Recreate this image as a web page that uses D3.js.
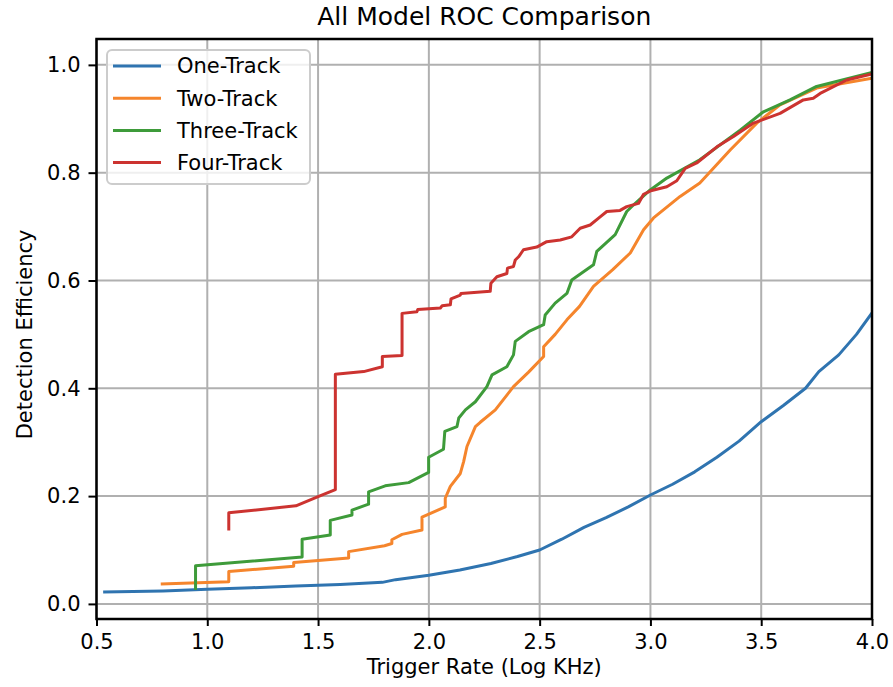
<!DOCTYPE html>
<html>
<head>
<meta charset="utf-8">
<script src="https://cdn.jsdelivr.net/npm/d3@7"></script>
<style>
  body { margin: 0; background: #fff; }
  text { font-family: "DejaVu Sans", sans-serif; fill: #000; }
</style>
</head>
<body>
<div id="chart"></div>
<script>
// series names + colours (slightly muted matplotlib cycle, as in the picture)
const seriesNames = ["One-Track", "Two-Track", "Three-Track", "Four-Track"];
const seriesColors = ["#2f74b0", "#f5852c", "#3e9b3a", "#cc3330"];

const xTicks = [0.5, 1.0, 1.5, 2.0, 2.5, 3.0, 3.5, 4.0];
const yTicks = [0.0, 0.2, 0.4, 0.6, 0.8, 1.0];

// values: [trigger rate, efficiency]
const oneTrack = [
  [0.53, 0.022], [0.8, 0.024], [1.0, 0.027], [1.2, 0.030], [1.4, 0.033], [1.6, 0.036],
  [1.79, 0.040], [1.85, 0.045], [2.0, 0.053], [2.14, 0.063], [2.28, 0.075], [2.4, 0.088],
  [2.5, 0.100], [2.6, 0.120], [2.7, 0.142], [2.8, 0.160], [2.9, 0.180], [3.0, 0.202],
  [3.1, 0.222], [3.2, 0.245], [3.3, 0.272], [3.4, 0.302], [3.5, 0.338], [3.6, 0.368],
  [3.7, 0.400], [3.76, 0.431], [3.85, 0.462], [3.93, 0.500], [4.0, 0.540]
];

const twoTrack = [
  [0.79, 0.037], [1.097, 0.041], [1.097, 0.060], [1.39, 0.070], [1.39, 0.077],
  [1.638, 0.085], [1.638, 0.097], [1.80, 0.108], [1.833, 0.112], [1.833, 0.119],
  [1.879, 0.129], [1.969, 0.137], [1.969, 0.161], [2.074, 0.180], [2.074, 0.196],
  [2.097, 0.218], [2.142, 0.242], [2.157, 0.264], [2.172, 0.292], [2.21, 0.329],
  [2.232, 0.337], [2.30, 0.360], [2.382, 0.403], [2.45, 0.430], [2.518, 0.459],
  [2.518, 0.477], [2.57, 0.500], [2.623, 0.527], [2.68, 0.552], [2.743, 0.589],
  [2.83, 0.620], [2.909, 0.651], [2.969, 0.694], [3.014, 0.716], [3.134, 0.756],
  [3.223, 0.781], [3.36, 0.842], [3.48, 0.892], [3.585, 0.926], [3.75, 0.957], [4.0, 0.975]
];

const threeTrack = [
  [0.947, 0.026], [0.947, 0.071], [1.428, 0.087], [1.428, 0.120], [1.555, 0.128],
  [1.555, 0.155], [1.653, 0.165], [1.653, 0.174], [1.728, 0.185], [1.728, 0.208],
  [1.803, 0.219], [1.909, 0.225], [1.999, 0.244], [1.999, 0.272], [2.066, 0.287],
  [2.072, 0.320], [2.127, 0.329], [2.135, 0.345], [2.165, 0.360], [2.21, 0.375],
  [2.262, 0.403], [2.285, 0.425], [2.352, 0.440], [2.382, 0.462], [2.39, 0.487],
  [2.45, 0.505], [2.518, 0.518], [2.525, 0.536], [2.57, 0.558], [2.623, 0.576],
  [2.645, 0.601], [2.743, 0.629], [2.758, 0.654], [2.841, 0.685], [2.893, 0.728],
  [2.923, 0.740], [2.999, 0.768], [3.074, 0.790], [3.223, 0.824], [3.405, 0.879],
  [3.51, 0.913], [3.63, 0.935], [3.75, 0.960], [4.0, 0.986]
];

const fourTrack = [
  [1.097, 0.136], [1.097, 0.169], [1.40, 0.182], [1.50, 0.199], [1.578, 0.212],
  [1.578, 0.426], [1.706, 0.431], [1.79, 0.440], [1.79, 0.459], [1.879, 0.461],
  [1.879, 0.539], [1.946, 0.542], [1.95, 0.546], [2.052, 0.549], [2.06, 0.553],
  [2.097, 0.555], [2.10, 0.566], [2.142, 0.573], [2.145, 0.576], [2.277, 0.580],
  [2.28, 0.595], [2.307, 0.607], [2.352, 0.613], [2.355, 0.623], [2.382, 0.626],
  [2.39, 0.638], [2.405, 0.644], [2.427, 0.657], [2.487, 0.662], [2.532, 0.672],
  [2.593, 0.675], [2.645, 0.681], [2.683, 0.697], [2.728, 0.703], [2.773, 0.718],
  [2.803, 0.728], [2.863, 0.730], [2.893, 0.737], [2.946, 0.743], [2.969, 0.760],
  [3.006, 0.767], [3.074, 0.774], [3.119, 0.785], [3.157, 0.808], [3.209, 0.818],
  [3.30, 0.848], [3.375, 0.867], [3.465, 0.892], [3.585, 0.910], [3.69, 0.935],
  [3.735, 0.938], [3.766, 0.947], [3.886, 0.972], [4.0, 0.983]
];

const allSeries = [oneTrack, twoTrack, threeTrack, fourTrack];

const width = 893, height = 687;
const margin = { top: 39, right: 21, bottom: 68, left: 96.5 };
const innerW = width - margin.left - margin.right;
const innerH = height - margin.top - margin.bottom;

const svg = d3.select("#chart").append("svg")
  .attr("width", width)
  .attr("height", height);

const g = svg.append("g")
  .attr("transform", `translate(${margin.left},${margin.top})`);

const x = d3.scaleLinear().domain([0.5, 4.0]).range([0, innerW]);
const y = d3.scaleLinear().domain([-0.028, 1.048]).range([innerH, 0]);

// grid
g.append("g")
  .selectAll("line")
  .data(xTicks)
  .join("line")
  .attr("x1", d => x(d)).attr("x2", d => x(d))
  .attr("y1", 0).attr("y2", innerH)
  .attr("stroke", "#b0b0b0").attr("stroke-width", 2);

g.append("g")
  .selectAll("line")
  .data(yTicks)
  .join("line")
  .attr("x1", 0).attr("x2", innerW)
  .attr("y1", d => y(d)).attr("y2", d => y(d))
  .attr("stroke", "#b0b0b0").attr("stroke-width", 2);

// lines
g.append("clipPath").attr("id", "clip")
  .append("rect").attr("width", innerW).attr("height", innerH);

const line = d3.line().x(d => x(d[0])).y(d => y(d[1]));

g.append("g").attr("clip-path", "url(#clip)")
  .selectAll("path")
  .data(allSeries)
  .join("path")
  .attr("d", line)
  .attr("fill", "none")
  .attr("stroke", (d, i) => seriesColors[i])
  .attr("stroke-width", 3)
  .attr("stroke-linejoin", "round")
  .attr("stroke-linecap", "butt");

// axes
const xAxis = g.append("g")
  .attr("transform", `translate(0,${innerH})`)
  .call(d3.axisBottom(x).tickValues(xTicks).tickFormat(d3.format(".1f")).tickSize(7).tickPadding(8));

const yAxis = g.append("g")
  .call(d3.axisLeft(y).tickValues(yTicks).tickFormat(d3.format(".1f")).tickSize(8).tickPadding(8));

[xAxis, yAxis].forEach(ax => {
  ax.select(".domain").remove();
  ax.selectAll(".tick line").attr("stroke", "#000").attr("stroke-width", 2);
  ax.selectAll(".tick text").attr("font-size", 21).attr("font-family", "DejaVu Sans");
});

// frame
g.append("rect")
  .attr("width", innerW).attr("height", innerH)
  .attr("fill", "none").attr("stroke", "#000").attr("stroke-width", 2.5);

// legend
const legend = g.append("g").attr("transform", "translate(10.5,11)");
legend.append("rect")
  .attr("width", 203).attr("height", 134)
  .attr("rx", 5)
  .attr("fill", "#fff").attr("fill-opacity", 0.8)
  .attr("stroke", "#cccccc").attr("stroke-width", 2);

const items = legend.selectAll(".item")
  .data(seriesNames)
  .join("g")
  .attr("class", "item")
  .attr("transform", (d, i) => `translate(0,${16 + i * 32.2})`);

items.append("line")
  .attr("x1", 6).attr("x2", 54)
  .attr("stroke", (d, i) => seriesColors[i])
  .attr("stroke-width", 3);

items.append("text")
  .attr("x", 70).attr("dy", "0.35em")
  .attr("font-size", 21)
  .text(d => d);

// titles
svg.append("text")
  .attr("x", margin.left + innerW / 2).attr("y", 25)
  .attr("text-anchor", "middle").attr("font-size", 25)
  .text("All Model ROC Comparison");

svg.append("text")
  .attr("x", margin.left + innerW / 2).attr("y", 674)
  .attr("text-anchor", "middle").attr("font-size", 21)
  .text("Trigger Rate (Log KHz)");

svg.append("text")
  .attr("transform", `translate(32,${margin.top + y(0.5)}) rotate(-90)`)
  .attr("text-anchor", "middle").attr("font-size", 21)
  .text("Detection Efficiency");
</script>
</body>
</html>
